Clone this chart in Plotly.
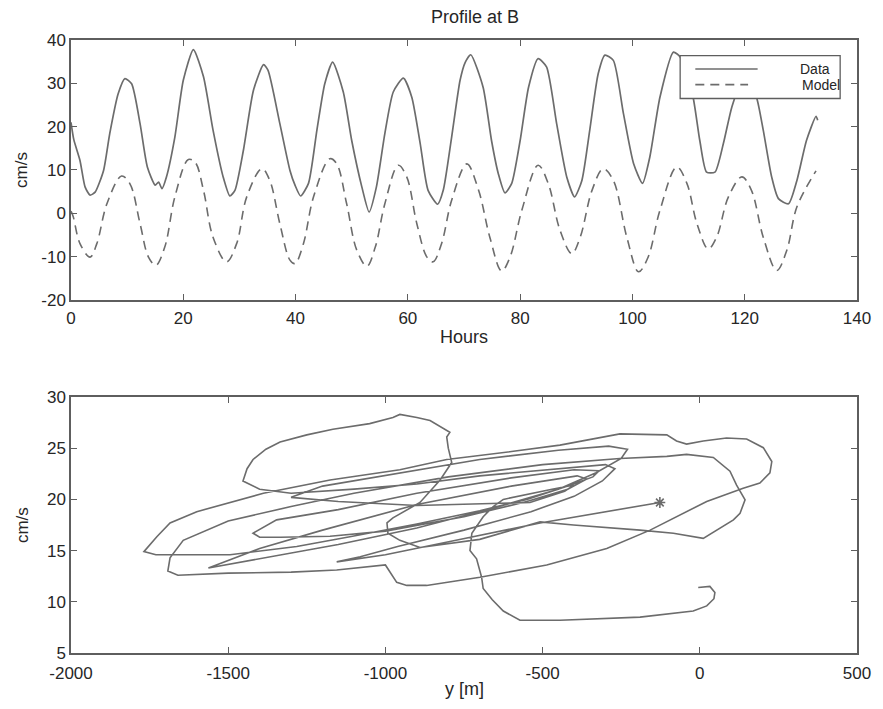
import plotly.graph_objects as go

# ---------------- data: top panel (speed vs hours) ----------------
data_hours = [0.0, 0.5, 1.6, 2.5, 3.4, 4.3, 5.8, 6.9, 8.4, 9.6, 10.8, 12.3, 13.6, 15.0, 15.6, 16.2,
              17.0, 18.5, 20.0, 21.8, 23.6, 25.3, 27.1, 28.3, 29.2, 30.7, 32.5, 34.3, 35.1, 37.2,
              39.0, 39.9, 40.9, 42.3, 43.8, 45.2, 46.6, 48.5, 50.0, 51.8, 53.1, 54.4, 55.9, 57.4,
              59.2, 60.7, 62.2, 63.6, 65.3, 66.3, 67.8, 69.3, 70.2, 71.2, 73.4, 74.9, 76.1, 77.3,
              78.5, 80.0, 81.5, 83.2, 84.7, 86.5, 88.3, 89.7, 91.0, 92.4, 93.9, 95.1, 96.6, 98.4,
              100.2, 101.8, 103.1, 104.9, 107.3, 108.5, 109.8, 110.8, 112.0, 113.2, 114.7, 116.2,
              117.7, 119.5, 120.8, 122.1, 123.3, 124.8, 126.0, 127.8, 129.3, 131.0, 132.7, 133.0]
data_speed = [21.0, 17.0, 12.2, 6.1, 4.2, 4.9, 9.9, 18.4, 27.6, 31.1, 29.9, 20.7, 10.7, 6.5, 7.2, 5.7,
              8.4, 17.6, 30.7, 37.8, 31.5, 19.2, 8.4, 4.0, 5.3, 14.5, 28.4, 34.3, 33.0, 20.7,
              9.9, 6.5, 4.0, 6.9, 19.2, 29.9, 34.9, 28.0, 16.8, 6.1, 0.3, 6.1, 18.4, 28.0,
              31.2, 26.8, 16.1, 5.3, 2.1, 5.3, 17.6, 30.7, 34.8, 36.6, 29.1, 16.8, 9.2, 4.7,
              6.9, 16.8, 29.1, 35.7, 33.8, 20.7, 8.4, 3.8, 7.6, 19.2, 32.2, 36.5, 35.3, 23.0,
              11.5, 6.9, 13.0, 26.8, 37.2, 36.1, 30.5, 26.8, 16.8, 9.5, 9.5, 16.1,
              24.5, 30.5, 30.0, 26.8, 19.2, 8.4, 3.4, 2.2, 7.6, 16.8, 22.4, 21.5]

model_hours = [0.0, 0.4, 1.6, 3.4, 4.6, 6.4, 9.0, 10.5, 12.3, 13.8, 15.1, 16.7, 18.5, 20.9, 22.1,
               23.6, 25.3, 27.7, 29.5, 31.3, 34.0, 35.4, 37.2, 39.0, 39.9, 41.4, 43.2, 46.1, 47.3,
               49.1, 50.9, 52.7, 54.2, 55.9, 58.3, 59.8, 61.6, 63.4, 64.5, 66.0, 67.8, 70.5, 72.6,
               74.6, 76.7, 78.2, 80.3, 83.2, 85.0, 87.1, 89.2, 90.7, 92.8, 94.8, 96.6, 99.0, 101.1,
               102.8, 104.9, 107.9, 109.7, 111.5, 113.5, 115.0, 117.1, 119.5, 121.2, 123.3, 125.7,
               127.5, 129.3, 132.7]
model_speed = [0.5, -0.8, -7.0, -10.1, -7.0, 2.2, 8.6, 6.8, -2.4, -10.1, -12.0, -7.8, 3.8, 12.4, 11.8,
               5.3, -5.5, -11.2, -7.0, 3.8, 10.3, 7.6, -2.4, -10.8, -11.6, -7.0, 3.8, 12.6, 11.5,
               2.2, -8.5, -12.2, -7.8, 2.2, 11.1, 8.4, -2.4, -10.1, -11.2, -7.0, 3.0, 11.4, 5.3,
               -5.5, -13.3, -10.1, 0.7, 11.1, 6.9, -3.9, -9.3, -5.5, 5.3, 10.3, 7.6, -5.5, -13.5,
               -10.1, 0.7, 10.7, 6.9, -2.4, -8.2, -5.5, 3.8, 8.4, 5.3, -5.5, -13.2,
               -8.5, 1.5, 9.8]

top_xticks = [0, 20, 40, 60, 80, 100, 120, 140]
top_yticks = [-20, -10, 0, 10, 20, 30, 40]

# ---------------- data: bottom panel (speed vs displacement) ----------------
track_y_m = [
    -127, -300, -508, -760, -1000, -1155,
    -1080, -961, -750, -537, -400, -310, -270, -300,
    -450, -700, -900, -1100, -1300, -1400, -1453,
    -1440, -1421, -1380, -1335, -1250, -1167, -1050, -976, -954, -900, -858, -795, -805, -800,
    -789, -826, -890, -976, -995, -992, -954, -890,
    -700, -508, -402, -190, -84, 11, 107, 128, 144, 117, 96, 43, -42, -105, -254,
    -500, -800, -1100, -1300, -1500, -1643, -1685, -1692, -1660, -1500, -1300, -1155, -1000,
    -975, -964, -932, -869, -699, -487, -296, -158, 22, 138, 191, 223, 229, 202, 149, 85, 11,
    -42, -74, -105, -254, -445, -593, -805, -954, -1176, -1388, -1600, -1685, -1727, -1768,
    -1730, -1494, -1282, -1113, -900, -700, -550, -420, -340, -320, -400,
    -600, -900, -1150, -1346, -1421, -1400, -1333, -1176, -1000, -750, -550, -420, -360, -390,
    -600, -900, -1200, -1400, -1563,
    -1389, -1150, -900, -650, -450, -330, -250, -230, -290, -450, -700, -950, -1200, -1300,
    -1150, -900, -700, -540, -430, -400, -470, -582, -625, -657, -689, -725, -731, -710,
    -694, -689, -660, -625, -572, -445, -300, -190, -21, 22, 45, 48, 32, -5]
track_speed = [
    19.7, 18.8, 17.7, 16.1, 14.6, 13.9,
    14.4, 15.4, 17.0, 18.8, 20.3, 21.8, 23.0, 23.4,
    23.0, 22.3, 21.5, 21.0, 20.6, 21.0, 21.8,
    23.0, 23.9, 24.9, 25.6, 26.3, 26.85, 27.4, 28.0, 28.3, 28.0, 27.7, 26.55, 26.1, 25.0,
    23.6, 21.9, 19.7, 18.2, 17.7, 16.7, 16.0, 15.3,
    16.1, 17.8, 17.5, 17.0, 16.7, 16.2, 18.0, 18.65, 19.96, 21.4, 22.75, 24.1, 24.4, 24.2, 24.0,
    23.4, 22.2, 20.6, 19.3, 17.9, 16.0, 14.3, 13.0, 12.6, 12.8, 12.9, 13.1, 13.6,
    12.5, 11.9, 11.6, 11.6, 12.4, 13.6, 15.2, 17.0, 19.8, 21.1, 21.6, 22.6, 23.7, 25.05, 25.9, 26.0, 25.7,
    25.4, 25.7, 26.3, 26.4, 25.3, 24.7, 23.9, 22.9, 21.9, 20.6, 18.8, 17.7, 16.35, 14.9,
    14.6, 14.6, 15.4, 16.35, 17.6, 18.9, 20.0, 21.3, 22.2, 22.8, 22.9,
    22.1, 20.6, 19.0, 18.0, 16.7, 16.3, 16.3, 16.4, 16.9, 18.3, 19.8, 21.0, 22.0, 22.3,
    21.3, 19.5, 17.0, 15.2, 13.3,
    14.3, 15.6, 17.2, 19.2, 21.0, 22.6, 24.0, 24.9, 25.2, 24.8, 23.9, 22.6, 21.3, 20.2,
    19.8, 19.4, 19.6, 19.7, 20.8, 21.4, 21.0, 20.3, 20.0, 19.3, 18.3, 16.7, 15.0, 14.2,
    12.4, 11.3, 10.2, 9.1, 8.2, 8.2, 8.4, 8.5, 9.1, 9.6, 10.3, 10.9, 11.5, 11.4]

bottom_xticks = [-2000, -1500, -1000, -500, 0, 500]
bottom_yticks = [5, 10, 15, 20, 25, 30]

# ---------------- styling ----------------
LINE = "#6c6c6c"
FRAME = "#5e5e5e"
TEXT = "#262626"
FONT = "Liberation Sans, Arial, Helvetica, sans-serif"

fig = go.Figure()

fig.add_trace(go.Scatter(x=data_hours, y=data_speed, mode="lines", name="Data",
                         line=dict(color=LINE, width=1.7, shape="spline", smoothing=0.6),
                         xaxis="x", yaxis="y", showlegend=False))
fig.add_trace(go.Scatter(x=model_hours, y=model_speed, mode="lines", name="Model",
                         line=dict(color=LINE, width=1.6, dash="9px,6px", shape="spline", smoothing=1.0),
                         xaxis="x", yaxis="y", showlegend=False))
fig.add_trace(go.Scatter(x=track_y_m, y=track_speed, mode="lines",
                         line=dict(color=LINE, width=1.6),
                         xaxis="x2", yaxis="y2", showlegend=False))
fig.add_trace(go.Scatter(x=[track_y_m[0]], y=[track_speed[0]], mode="markers",
                         marker=dict(symbol="asterisk-open", size=9, color=LINE,
                                     line=dict(color=LINE, width=1.6)),
                         xaxis="x2", yaxis="y2", showlegend=False))

axis_common = dict(showline=True, linecolor=FRAME, linewidth=1.5, mirror="ticks",
                   ticks="inside", ticklen=6, tickwidth=1.2, tickcolor=FRAME,
                   showgrid=False, zeroline=False,
                   tickfont=dict(family=FONT, size=17, color=TEXT))


def labels(vals):
    return [str(v) for v in vals]


fig.update_layout(
    width=883, height=709,
    margin=dict(l=71, r=26, t=40, b=56),
    paper_bgcolor="white", plot_bgcolor="white",
    showlegend=False,
    xaxis=dict(domain=[0, 1], range=[0, 140], tickvals=top_xticks, ticktext=labels(top_xticks),
               anchor="y", ticklabelstandoff=2, **axis_common),
    yaxis=dict(domain=[0.5759, 1], range=[-20, 40], tickvals=top_yticks, ticktext=labels(top_yticks),
               anchor="x", **axis_common),
    xaxis2=dict(domain=[0, 1], range=[-2000, 500], tickvals=bottom_xticks,
                ticktext=labels(bottom_xticks), anchor="y2", ticklabelstandoff=4, **axis_common),
    yaxis2=dict(domain=[0, 0.4176], range=[5, 30], tickvals=bottom_yticks,
                ticktext=labels(bottom_yticks), anchor="x2", **axis_common),
)

# custom legend box (MATLAB style)
fig.add_shape(type="rect", xref="x", yref="y", x0=108.5, x1=137.0, y0=26.5, y1=36.4,
              fillcolor="white", line=dict(color=FRAME, width=1.3), layer="above")
fig.add_shape(type="line", xref="x", yref="y", x0=111.2, x1=122.3, y0=33.3, y1=33.3,
              line=dict(color=LINE, width=1.6), layer="above")
fig.add_shape(type="line", xref="x", yref="y", x0=111.2, x1=120.6, y0=29.7, y1=29.7,
              line=dict(color=LINE, width=1.6, dash="9px,6px"), layer="above")

annots = [
    dict(text="Data", x=135.6, y=33.4, xref="x", yref="y", xanchor="right", yanchor="middle",
         font=dict(family=FONT, size=14, color=TEXT)),
    dict(text="Model", x=137.3, y=29.6, xref="x", yref="y", xanchor="right", yanchor="middle",
         font=dict(family=FONT, size=14, color=TEXT)),
    dict(text="Profile at B", x=0.514, y=1.0375, xref="paper", yref="paper",
         xanchor="center", yanchor="middle", font=dict(family=FONT, size=18, color=TEXT)),
    dict(text="Hours", x=0.5, y=0.5155, xref="paper", yref="paper",
         xanchor="center", yanchor="middle", font=dict(family=FONT, size=18, color=TEXT)),
    dict(text="y [m]", x=0.5, y=-0.0587, xref="paper", yref="paper",
         xanchor="center", yanchor="middle", font=dict(family=FONT, size=18, color=TEXT)),
    dict(text="cm/s", x=-0.0623, y=0.788, xref="paper", yref="paper", textangle=-90,
         xanchor="center", yanchor="middle", font=dict(family=FONT, size=17, color=TEXT)),
    dict(text="cm/s", x=-0.0623, y=0.2088, xref="paper", yref="paper", textangle=-90,
         xanchor="center", yanchor="middle", font=dict(family=FONT, size=17, color=TEXT)),
]
for a in annots:
    fig.add_annotation(showarrow=False, **a)

fig.write_html("out.html")
